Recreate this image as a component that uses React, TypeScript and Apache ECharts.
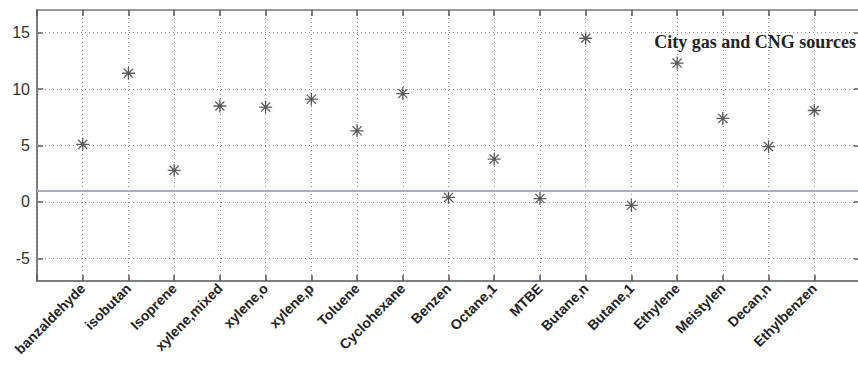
import React, { useEffect, useRef } from "react";
import * as echarts from "echarts";

const categories = [
  "banzaldehyde", "isobutan", "Isoprene", "xylene,mixed", "xylene,o", "xylene,p",
  "Toluene", "Cyclohexane", "Benzen", "Octane,1", "MTBE", "Butane,n", "Butane,1",
  "Ethylene", "Meistylen", "Decan,n", "Ethylbenzen",
];
const values = [5.1, 11.4, 2.8, 8.5, 8.4, 9.1, 6.3, 9.6, 0.4, 3.8, 0.3, 14.5, -0.3, 12.3, 7.4, 4.9, 8.1];
const yTicks = [-5, 0, 5, 10, 15];
const referenceLevel = 1;
const titleText = "City gas and CNG sources";

const asterisk =
  "path://M9,0 L11,0 L11,20 L9,20 Z M0,9 L20,9 L20,11 L0,11 Z " +
  "M2.3,3.7 L3.7,2.3 L17.7,16.3 L16.3,17.7 Z M16.3,2.3 L17.7,3.7 L3.7,17.7 L2.3,16.3 Z";

export default function App() {
  const ref = useRef<HTMLDivElement>(null);
  useEffect(() => {
    if (!ref.current) return;
    const chart = echarts.init(ref.current, null, { renderer: "svg" });
    const frame = "#555";
    const grid = { color: "#8f8f8f", type: [1, 3] as any, width: 1 };
    chart.setOption({
      animation: false,
      backgroundColor: "#ffffff",
      title: {
        text: titleText,
        right: -3,
        top: 28,
        textStyle: { fontFamily: "Liberation Serif", fontWeight: "bold", fontSize: 18, color: "#222" },
      },
      grid: { left: 37, top: 10, width: 823, height: 271, containLabel: false, outerBoundsMode: "none" },
      xAxis: [
        {
          type: "value",
          min: 0,
          max: categories.length + 1,
          interval: 1,
          position: "bottom",
          axisLine: { show: true, onZero: false, lineStyle: { color: frame, width: 1.5 } },
          axisTick: { show: true, inside: true, length: 6, lineStyle: { color: frame, width: 1.5 } },
          axisLabel: {
            rotate: 45,
            margin: 5,
            fontFamily: "Liberation Sans",
            fontWeight: "bold",
            fontSize: 14,
            color: "#222",
            formatter: (v: number) => categories[v - 1] ?? "",
          },
          splitLine: { show: true, lineStyle: grid },
        },
        {
          type: "value",
          min: 0,
          max: categories.length + 1,
          interval: 1,
          position: "top",
          axisLine: { show: true, onZero: false, lineStyle: { color: "#777", width: 1.5 } },
          axisTick: { show: true, inside: true, length: 6, lineStyle: { color: frame, width: 1.5 } },
          axisLabel: { show: false },
          splitLine: { show: false },
        },
      ],
      yAxis: [
        {
          type: "value",
          min: -7,
          max: 17,
          position: "left",
          axisLine: { show: true, onZero: false, lineStyle: { color: frame, width: 1.5 } },
          axisTick: { show: true, inside: true, length: 6, customValues: yTicks, lineStyle: { color: frame, width: 1.5 } },
          axisLabel: { customValues: yTicks, margin: 7, fontFamily: "Liberation Sans", fontSize: 16, color: "#333" },
          splitLine: { show: false },
        },
        {
          type: "value",
          min: -7,
          max: 17,
          position: "right",
          axisLine: { show: true, onZero: false, lineStyle: { color: frame, width: 1.5 } },
          axisTick: { show: true, inside: true, length: 6, customValues: yTicks, lineStyle: { color: frame, width: 1.5 } },
          axisLabel: { show: false, customValues: yTicks },
          splitLine: { show: false },
        },
      ],
      series: [
        {
          type: "scatter",
          xAxisIndex: 0,
          yAxisIndex: 0,
          silent: true,
          data: [],
          markLine: {
            silent: true,
            symbol: "none",
            label: { show: false },
            lineStyle: grid,
            data: yTicks.map((t) => ({ yAxis: t })),
          },
        },
        {
          type: "scatter",
          xAxisIndex: 0,
          yAxisIndex: 0,
          symbol: asterisk,
          symbolSize: 13,
          itemStyle: { color: "#333" },
          data: values.map((v, i) => [i + 1, v]),
          markLine: {
            silent: true,
            symbol: "none",
            label: { show: false },
            lineStyle: { color: "#a6acc4", width: 2, type: "solid" },
            data: [{ yAxis: referenceLevel }],
          },
        },
      ],
    });
    return () => chart.dispose();
  }, []);
  return (
    <div
      ref={ref}
      style={{ position: "fixed", left: 0, top: 0, width: 858, height: 369, background: "#fff" }}
    />
  );
}
